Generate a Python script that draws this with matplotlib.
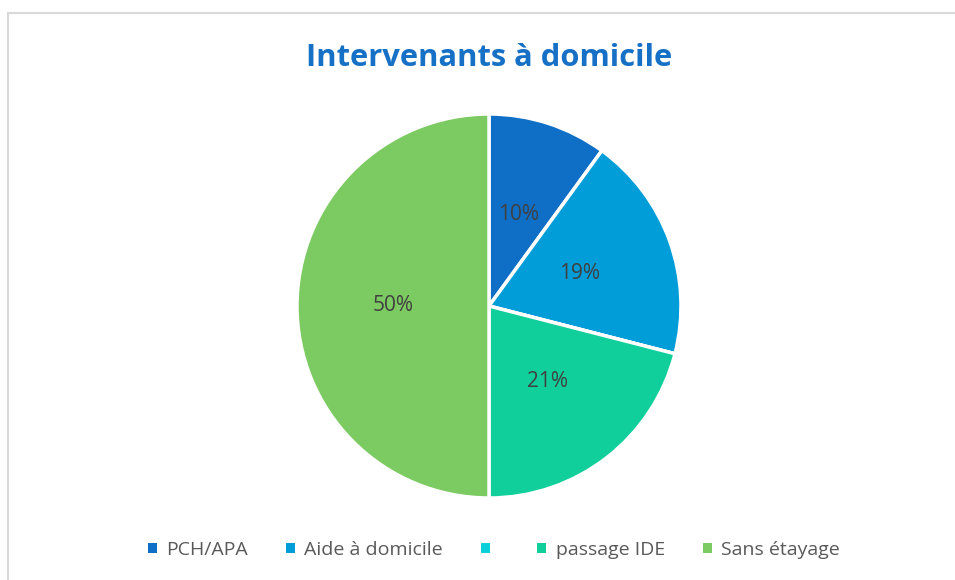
import matplotlib.pyplot as plt
from matplotlib.lines import Line2D

# data
labels = ['PCH/APA', 'Aide à domicile', '', 'passage IDE', 'Sans étayage']
values = [10, 19, 0, 21, 50]
colors = ['#0F6FC6', '#009DD9', '#0BD0D9', '#10CF9B', '#7CCA62']

plt.rcParams['font.family'] = ['Open Sans', 'DejaVu Sans']

W, H = 955, 580
fig = plt.figure(figsize=(W / 100, H / 100), dpi=100)

# chart frame (left and top edges visible)
fig.add_artist(Line2D([8 / W, 8 / W], [0, 1 - 13 / H], color='#D9D9D9', lw=1.5))
fig.add_artist(Line2D([8 / W, 1], [1 - 13 / H, 1 - 13 / H], color='#D9D9D9', lw=1.5))

cx, cy, r = 489, 306, 192
ax = fig.add_axes([(cx - r) / W, 1 - (cy + r) / H, 2 * r / W, 2 * r / H])


def pct(p):
    return '' if p < 0.5 else '%.0f%%' % p


wedges, texts, autotexts = ax.pie(values, colors=colors, startangle=90, counterclock=False,
                                  autopct=pct, pctdistance=0.5,
                                  wedgeprops=dict(edgecolor='white', linewidth=2.5),
                                  textprops=dict(color='#404040', fontsize=15))
ax.set_xlim(-1, 1)
ax.set_ylim(-1, 1)
ax.set_aspect('equal')

fig.text(489 / W, 1 - 58 / H, 'Intervenants à domicile', ha='center', va='center',
         fontsize=22.2, fontweight='bold', color='#1570C6')

leg = fig.legend(wedges, labels, loc='center', bbox_to_anchor=(494 / W, 1 - 550 / H), ncol=5,
                 frameon=False, fontsize=14, handlelength=0.45, handleheight=0.45,
                 handletextpad=0.5, columnspacing=1.95, labelcolor='#595959')
for h in leg.legend_handles:
    h.set_edgecolor('none')

fig.savefig('out.png', dpi=100)
